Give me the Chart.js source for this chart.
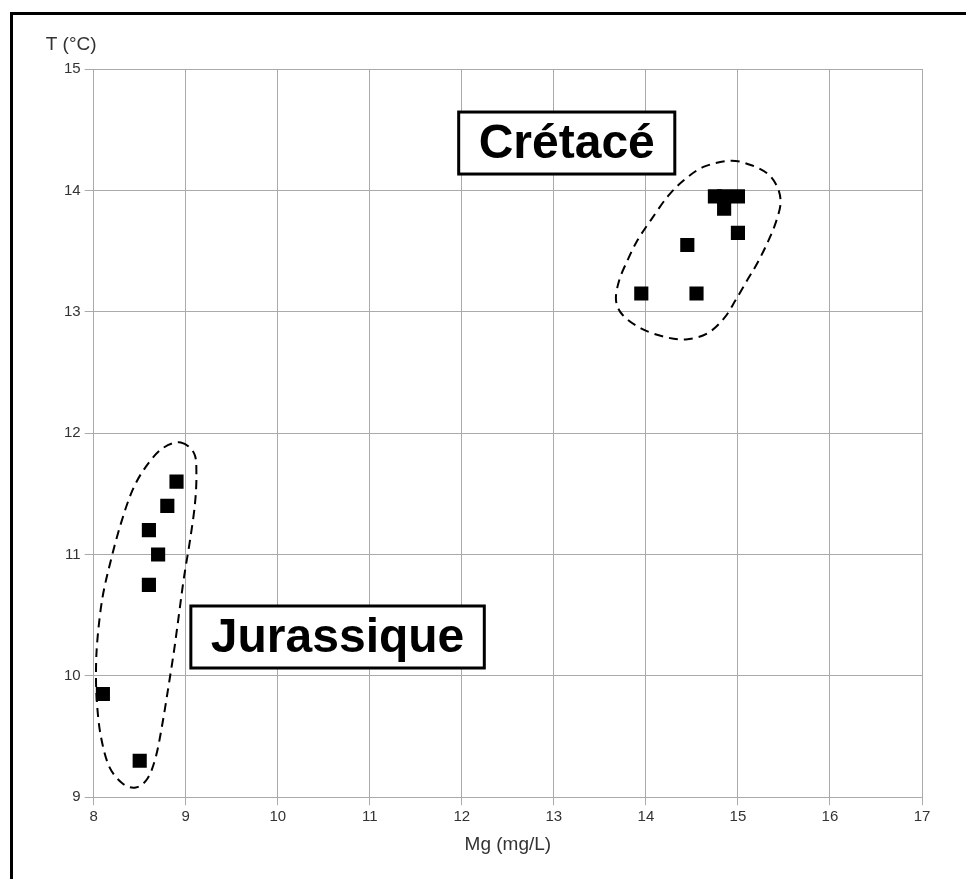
<!DOCTYPE html>
<html lang="fr">
<head>
<meta charset="UTF-8">
<title>T (°C) vs Mg (mg/L)</title>
<script src="https://cdn.jsdelivr.net/npm/chart.js"></script>
<style>
    body { margin: 0; background: #fff; overflow: hidden; }
    .wrap { position: relative; width: 966px; height: 879px; overflow: hidden; }
    .frame {
        position: absolute; left: 10px; top: 12px; width: 1000px; height: 1000px;
        border-top: 3px solid #000; border-left: 3px solid #000;
        pointer-events: none;
    }
    canvas { display: block; }
</style>
</head>
<body>
<div class="wrap">
    <canvas id="chart" width="966" height="879"></canvas>
    <div class="frame"></div>
</div>
<script>
// Jurassique samples
const jurMg = [8.9, 8.8, 8.6, 8.7, 8.6, 8.1, 8.5];
const jurT = [11.6, 11.4, 11.2, 11.0, 10.75, 9.85, 9.3];
// Crétacé samples
const creMg = [14.75, 14.85, 14.85, 15.0, 15.0, 14.45, 13.95, 14.55];
const creT = [13.95, 13.95, 13.85, 13.95, 13.65, 13.55, 13.15, 13.15];

// dashed group outlines (data units, clockwise)
const jurOutlineMg = [8.946, 9.091, 9.116, 9.101, 9.047, 8.982, 8.928, 8.874, 8.812, 8.747, 8.675, 8.585, 8.458,
    8.314, 8.170, 8.079, 8.036, 8.025, 8.043, 8.097, 8.187, 8.296, 8.422, 8.566, 8.747];
const jurOutlineT = [11.923, 11.833, 11.668, 11.421, 11.118, 10.816, 10.514, 10.212, 9.909, 9.607, 9.332, 9.154, 9.080,
    9.113, 9.250, 9.497, 9.772, 10.047, 10.321, 10.651, 10.953, 11.256, 11.530, 11.722, 11.874];
const creOutlineMg = [14.921, 15.138, 15.318, 15.427, 15.463, 15.408, 15.318, 15.210, 15.102, 14.975, 14.848, 14.668,
    14.434, 14.198, 13.946, 13.748, 13.675, 13.711, 13.802, 13.910, 14.054, 14.235, 14.415, 14.632];
const creOutlineT = [14.244, 14.209, 14.140, 14.030, 13.893, 13.728, 13.564, 13.399, 13.261, 13.096, 12.945, 12.822,
    12.772, 12.794, 12.863, 12.973, 13.096, 13.261, 13.426, 13.591, 13.755, 13.948, 14.085, 14.195];

// group labels: text and box centre (data units)
const groupLabels = ['Crétacé', 'Jurassique'];
const labelMg = [13.14, 10.65];
const labelT = [14.39, 10.32];

const xTicks = [8, 9, 10, 11, 12, 13, 14, 15, 16, 17];
const yTicks = [9, 10, 11, 12, 13, 14, 15];

const toPoints = (xs, ys) => xs.map((v, i) => ({ x: v, y: ys[i] }));

const outlines = [
    toPoints(jurOutlineMg, jurOutlineT),
    toPoints(creOutlineMg, creOutlineT)
];

const groupDecor = {
    id: 'groupDecor',
    beforeDatasetsDraw(chart) {
        const { ctx, scales: { x, y } } = chart;
        ctx.save();
        ctx.strokeStyle = '#000';
        ctx.lineWidth = 2;
        ctx.setLineDash([9, 6]);
        outlines.forEach(outline => {
            const pts = outline.map(p => ({ x: x.getPixelForValue(p.x), y: y.getPixelForValue(p.y) }));
            const n = pts.length;
            ctx.beginPath();
            ctx.moveTo(pts[0].x, pts[0].y);
            // closed catmull-rom through the outline points
            for (let i = 0; i < n; i++) {
                const p0 = pts[(i - 1 + n) % n], p1 = pts[i], p2 = pts[(i + 1) % n], p3 = pts[(i + 2) % n];
                ctx.bezierCurveTo(
                    p1.x + (p2.x - p0.x) / 6, p1.y + (p2.y - p0.y) / 6,
                    p2.x - (p3.x - p1.x) / 6, p2.y - (p3.y - p1.y) / 6,
                    p2.x, p2.y
                );
            }
            ctx.closePath();
            ctx.stroke();
        });
        ctx.restore();
    },
    afterDatasetsDraw(chart) {
        const { ctx, chartArea, scales: { x, y } } = chart;
        ctx.save();
        ctx.font = 'bold 48px "Liberation Sans", Arial, sans-serif';
        groupLabels.forEach((txt, i) => {
            const cx = x.getPixelForValue(labelMg[i]);
            const cy = y.getPixelForValue(labelT[i]);
            const w = ctx.measureText(txt).width + 40;
            const h = 62;
            ctx.fillStyle = '#fff';
            ctx.fillRect(cx - w / 2, cy - h / 2, w, h);
            ctx.lineWidth = 3;
            ctx.strokeStyle = '#000';
            ctx.strokeRect(cx - w / 2, cy - h / 2, w, h);
            ctx.fillStyle = '#000';
            ctx.textAlign = 'center';
            ctx.textBaseline = 'alphabetic';
            ctx.fillText(txt, cx, cy + 15);
        });
        // y axis title sits above the axis
        ctx.font = '19px "Liberation Sans", Arial, sans-serif';
        ctx.fillStyle = '#333';
        ctx.textAlign = 'left';
        ctx.fillText('T (°C)', chartArea.left - 48, chartArea.top - 19);
        ctx.restore();
    }
};

new Chart(document.getElementById('chart'), {
    type: 'scatter',
    data: {
        datasets: [
            {
                label: 'Jurassique',
                data: toPoints(jurMg, jurT),
                pointStyle: 'rect',
                pointRadius: 10,
                pointHoverRadius: 10,
                borderWidth: 0,
                backgroundColor: '#000'
            },
            {
                label: 'Crétacé',
                data: toPoints(creMg, creT),
                pointStyle: 'rect',
                pointRadius: 10,
                pointHoverRadius: 10,
                borderWidth: 0,
                backgroundColor: '#000'
            }
        ]
    },
    options: {
        responsive: false,
        animation: false,
        layout: { padding: { left: 60, right: 44, top: 69, bottom: 19 } },
        plugins: {
            legend: { display: false },
            tooltip: { enabled: false }
        },
        scales: {
            x: {
                type: 'linear',
                min: 8,
                max: 17,
                afterBuildTicks: axis => { axis.ticks = xTicks.map(v => ({ value: v })); },
                grid: { color: '#aaa', lineWidth: 1, tickLength: 8, tickColor: '#aaa' },
                border: { color: '#aaa' },
                ticks: { color: '#333', padding: 3, font: { family: '"Liberation Sans", Arial, sans-serif', size: 15 } },
                title: {
                    display: true,
                    text: 'Mg (mg/L)',
                    color: '#333',
                    font: { family: '"Liberation Sans", Arial, sans-serif', size: 19 },
                    padding: { top: 4, bottom: 4 }
                }
            },
            y: {
                type: 'linear',
                min: 9,
                max: 15,
                afterBuildTicks: axis => { axis.ticks = yTicks.map(v => ({ value: v })); },
                grid: { color: '#aaa', lineWidth: 1, tickLength: 9, tickColor: '#aaa' },
                border: { color: '#aaa' },
                ticks: { color: '#333', padding: 4, font: { family: '"Liberation Sans", Arial, sans-serif', size: 15 } }
            }
        }
    },
    plugins: [groupDecor]
});
</script>
</body>
</html>
